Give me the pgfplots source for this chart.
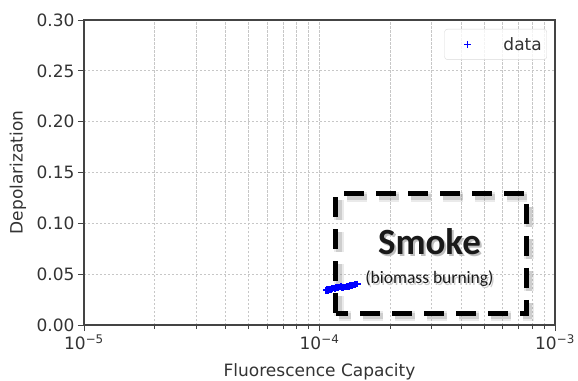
\documentclass[border=0pt]{standalone}
\usepackage{fontspec}
\setmainfont{DejaVu Sans}
\newfontfamily\carlito{Carlito}
\usepackage{pgfplots}
\pgfplotsset{compat=1.18}
\usetikzlibrary{calc}
\definecolor{txt}{HTML}{333333}
\definecolor{axc}{HTML}{444444}
\begin{document}
\begin{tikzpicture}
\begin{axis}[
  scale only axis, width=471pt, height=305pt,
  xmode=log, xmin=1e-5, xmax=1e-3, ymin=0, ymax=0.30,
  xtick={1e-5,1e-4,1e-3},
  xticklabels={10\textsuperscript{−5},10\textsuperscript{−4},10\textsuperscript{−3}},
  ytick={0,0.05,0.1,0.15,0.2,0.25,0.3},
  minor ytick={},
  yticklabel style={/pgf/number format/.cd, fixed, fixed zerofill, precision=2, assume math mode=true},
  tick pos=left,
  tick align=outside, major tick length=6pt, minor tick length=3.5pt,
  tick style={axc, line width=0.9pt},
  axis line style={axc, line width=1.1pt},
  grid=both,
  major grid style={dash pattern=on 2.5pt off 1.5pt, black!22, line width=0.8pt},
  minor grid style={dash pattern=on 2.5pt off 1.5pt, black!22, line width=0.8pt},
  font=\fontsize{17}{20}\selectfont,
  tick label style={font=\fontsize{17}{20}\selectfont, text=txt},
  xlabel={Fluorescence Capacity},
  ylabel={Depolarization},
  xlabel style={at={(axis description cs:0.5,-0.170)}, anchor=base, text=txt},
  ylabel style={at={(axis description cs:-0.14,0.5)}, anchor=center, text=txt},
  legend style={at={(rel axis cs:1,1)}, anchor=north east, xshift=-8pt, yshift=-9pt,
    draw=black!15, rounded corners=3pt, fill=white, fill opacity=0.8, draw opacity=1, text opacity=1,
    inner xsep=3pt, inner ysep=6pt, font=\fontsize{17}{20}\selectfont, text=txt},
  legend image code/.code={\draw[draw=none] (0pt,0pt) -- (54pt,0pt); \draw[#1, mark options={line width=1.8pt, scale=1}] plot coordinates {(20pt,0pt)};},
]
\coordinate (ll) at (rel axis cs:0,0);
\coordinate (ur) at (rel axis cs:1,1);
\addplot[only marks, mark=+, blue, mark size=3.3pt, line width=2pt] coordinates {
(1.07e-4,0.0342) (1.08e-4,0.0348) (1.09e-4,0.0340) (1.10e-4,0.0352) (1.11e-4,0.0356)
(1.12e-4,0.0349) (1.13e-4,0.0360) (1.15e-4,0.0364) (1.16e-4,0.0358) (1.17e-4,0.0369)
(1.19e-4,0.0372) (1.20e-4,0.0366) (1.22e-4,0.0375) (1.23e-4,0.0378) (1.25e-4,0.0371)
(1.26e-4,0.0368) (1.28e-4,0.0375) (1.30e-4,0.0373) (1.31e-4,0.0381) (1.33e-4,0.0378)
(1.35e-4,0.0386) (1.36e-4,0.0383) (1.38e-4,0.0391) (1.40e-4,0.0395) (1.42e-4,0.0399)
(1.44e-4,0.0402) (1.45e-4,0.0404)
};
\addlegendentry{data}
% dashed box with soft shadow
\draw[black!45, opacity=0.18, line width=10pt, dash pattern=on 20pt off 12pt, xshift=3pt, yshift=-3pt]
  (axis cs:1.17e-4,0.0118) rectangle (axis cs:7.56e-4,0.129);
\draw[black!45, opacity=0.3, line width=6pt, dash pattern=on 20pt off 12pt, xshift=3pt, yshift=-3pt]
  (axis cs:1.17e-4,0.0118) rectangle (axis cs:7.56e-4,0.129);
\draw[black, line width=5pt, dash pattern=on 20pt off 12pt]
  (axis cs:1.17e-4,0.0118) rectangle (axis cs:7.56e-4,0.129);
\node[font=\carlito\bfseries\fontsize{37}{40}\selectfont, anchor=base, text=black!25, xshift=2pt, yshift=-2pt] at (axis cs:2.93e-4,0.069) {Smoke};
\node[font=\carlito\bfseries\fontsize{37}{40}\selectfont, anchor=base, text=black!90] at (axis cs:2.93e-4,0.069) {Smoke};
\node[font=\carlito\fontsize{17.5}{20}\selectfont, anchor=base, text=black!20, xshift=1.5pt, yshift=-1.5pt] at (axis cs:2.93e-4,0.0404) {(biomass burning)};
\node[font=\carlito\fontsize{17.5}{20}\selectfont, anchor=base, text=black!90] at (axis cs:2.93e-4,0.0404) {(biomass burning)};
\end{axis}
\pgfresetboundingbox
\path ($(ll)+(-84pt,-55pt)$) rectangle ($(ur)+(23pt,20pt)$);
\end{tikzpicture}
\end{document}
